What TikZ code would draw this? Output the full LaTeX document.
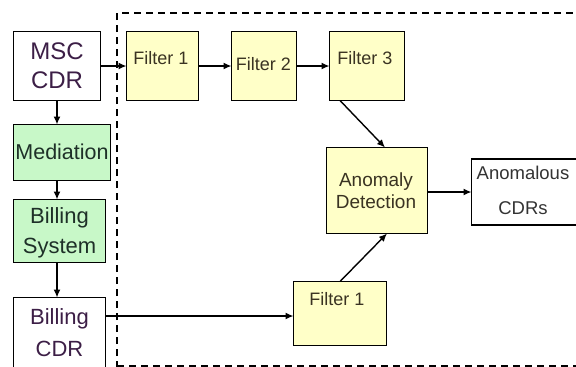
\documentclass[tikz,border=0pt]{standalone}
\usepackage{fontspec}
\setmainfont{Liberation Sans}
\usetikzlibrary{arrows.meta,calc}

\definecolor{fyel}{HTML}{FFFFC8}
\definecolor{fgrn}{HTML}{C8F8C8}
\definecolor{tpurp}{HTML}{3C1E46}
\definecolor{tbrown}{HTML}{3A3322}
\definecolor{tgreen}{HTML}{1E3028}
\definecolor{tgray}{HTML}{333333}

\tikzset{
  box/.style={draw=black, line width=1.8pt, inner sep=0pt, outer sep=0pt},
  yelbox/.style={box, fill=fyel},
  grnbox/.style={box, fill=fgrn},
  whtbox/.style={box, fill=white},
  lbl/.style={inner sep=0pt, align=center},
  conn/.style={line width=1.4pt, -{Latex[length=8pt,width=7pt]}},
  frame/.style={line width=1.6pt, dash pattern=on 7pt off 5pt},
}

\begin{document}
\begin{tikzpicture}[x=1pt,y=-1pt]
  \useasboundingbox (0,0) rectangle (576,367);
  \clip (0,0) rectangle (576,367);
  \fill[white] (0,0) rectangle (576,367);

  % dashed boundary of the detection stage
  \draw[frame] (117,380) -- (117,13) -- (600,13);
  \draw[frame] (117,366) -- (600,366);

  % left column: record sources
  \node[whtbox, minimum width=87pt, minimum height=69pt] (msc) at (57,66) {};
  \node[grnbox, minimum width=97pt, minimum height=56pt] (med) at (62,152.5) {};
  \node[grnbox, minimum width=92pt, minimum height=63pt] (bill) at (59.5,231) {};
  \node[whtbox, minimum width=92pt, minimum height=74pt] (bcdr) at (59.5,334.5) {};

  % filter chain
  \node[yelbox, minimum width=72pt, minimum height=69pt] (f1) at (162.5,66) {};
  \node[yelbox, minimum width=65pt, minimum height=69pt] (f2) at (264,66) {};
  \node[yelbox, minimum width=75pt, minimum height=69pt] (f3) at (367,66) {};
  \node[yelbox, minimum width=93pt, minimum height=64pt] (fb) at (340,313.5) {};

  % detection and output
  \node[yelbox, minimum width=101pt, minimum height=86pt] (ad) at (377,190.5) {};
  \node[whtbox, minimum width=107pt, minimum height=66pt] (ac) at (525,192) {};

  % labels
  \node[lbl, text=tpurp, font=\fontsize{24}{28.5}\selectfont] (mscT) at (57,65.7) {MSC\\CDR};
  \node[lbl, text=tgreen, font=\fontsize{21.5}{24}\selectfont] (medT) at (62,151.5) {Mediation};
  \node[lbl, text=tgreen, font=\fontsize{22}{30.5}\selectfont] (billT) at (59.5,233) {Billing\\System};
  \node[lbl, text=tpurp, font=\fontsize{22}{32}\selectfont] (bcdrT) at (59.5,333) {Billing\\CDR};
  \node[lbl, text=tbrown, font=\fontsize{18}{20}\selectfont] (f1T) at (161,58.5) {Filter 1};
  \node[lbl, text=tbrown, font=\fontsize{18}{20}\selectfont] (f2T) at (263.5,64) {Filter 2};
  \node[lbl, text=tbrown, font=\fontsize{18}{20}\selectfont] (f3T) at (365,58.5) {Filter 3};
  \node[lbl, text=tbrown, font=\fontsize{18}{20}\selectfont] (fbT) at (337,299.5) {Filter 1};
  \node[lbl, text=tbrown, font=\fontsize{19}{22.3}\selectfont] (adT) at (376,191) {Anomaly\\Detection};
  \node[lbl, text=tgray, font=\fontsize{18.5}{35.5}\selectfont] (acT) at (523,190.3) {Anomalous\\CDRs};

  % connectors
  \draw[conn] (msc.east) -- (f1.west);
  \draw[conn] (f1.east) -- (f2.west);
  \draw[conn] (f2.east) -- (f3.west);
  \draw[conn] ([xshift=-27pt]f3.south) -- ([xshift=8pt]ad.north);
  \draw[conn] (fb.north) -- ([xshift=10pt]ad.south);
  \draw[conn] (ad.east |- ac.west) -- (ac.west);
  \draw[conn] (msc.south) -- (msc.south |- med.north);
  \draw[conn] (msc.south |- med.south) -- (msc.south |- bill.north);
  \draw[conn] (msc.south |- bill.south) -- (msc.south |- bcdr.north);
  \draw[conn] ([yshift=-2.5pt]bcdr.east |- fb.west) -- ([yshift=-2.5pt]fb.west);
\end{tikzpicture}
\end{document}
